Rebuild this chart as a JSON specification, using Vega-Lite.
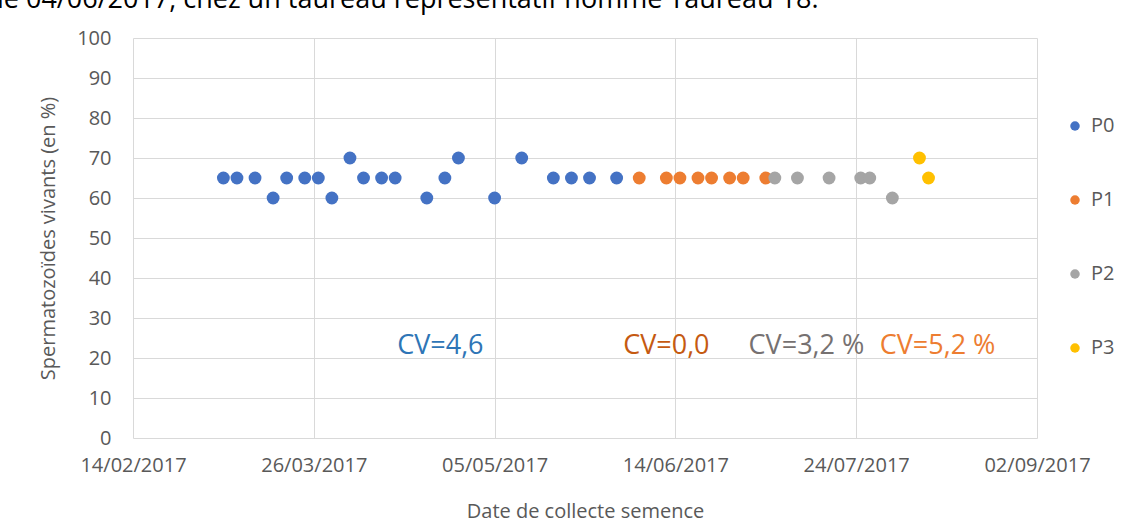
{
  "$schema": "https://vega.github.io/schema/vega-lite/v6.json",
  "width": 904,
  "height": 400,
  "autosize": "none",
  "padding": {"left": 133, "top": 38, "right": 85, "bottom": 94},
  "background": "white",
  "config": {
    "font": "Open Sans",
    "view": {"stroke": null},
    "axis": {"labelColor": "#595959", "titleColor": "#595959", "gridColor": "#d9d9d9", "domain": false, "ticks": false, "labelFontSize": 20, "titleFontSize": 20, "titleFontWeight": "normal"}
  },
  "title": {"text": "le 04/06/2017, chez un taureau représentatif nommé Taureau 18.", "anchor": "start", "frame": "group", "dx": -136, "fontSize": 27, "fontWeight": "normal", "color": "#000000", "baseline": "alphabetic", "offset": -7},
  "datasets": {
    "points": [
      {"date": "2017-03-06", "vivants": 65, "phase": "P0"},
      {"date": "2017-03-09", "vivants": 65, "phase": "P0"},
      {"date": "2017-03-13", "vivants": 65, "phase": "P0"},
      {"date": "2017-03-17", "vivants": 60, "phase": "P0"},
      {"date": "2017-03-20", "vivants": 65, "phase": "P0"},
      {"date": "2017-03-24", "vivants": 65, "phase": "P0"},
      {"date": "2017-03-27", "vivants": 65, "phase": "P0"},
      {"date": "2017-03-30", "vivants": 60, "phase": "P0"},
      {"date": "2017-04-03", "vivants": 70, "phase": "P0"},
      {"date": "2017-04-06", "vivants": 65, "phase": "P0"},
      {"date": "2017-04-10", "vivants": 65, "phase": "P0"},
      {"date": "2017-04-13", "vivants": 65, "phase": "P0"},
      {"date": "2017-04-20", "vivants": 60, "phase": "P0"},
      {"date": "2017-04-24", "vivants": 65, "phase": "P0"},
      {"date": "2017-04-27", "vivants": 70, "phase": "P0"},
      {"date": "2017-05-05", "vivants": 60, "phase": "P0"},
      {"date": "2017-05-11", "vivants": 70, "phase": "P0"},
      {"date": "2017-05-18", "vivants": 65, "phase": "P0"},
      {"date": "2017-05-22", "vivants": 65, "phase": "P0"},
      {"date": "2017-05-26", "vivants": 65, "phase": "P0"},
      {"date": "2017-06-01", "vivants": 65, "phase": "P0"},
      {"date": "2017-06-06", "vivants": 65, "phase": "P1"},
      {"date": "2017-06-12", "vivants": 65, "phase": "P1"},
      {"date": "2017-06-15", "vivants": 65, "phase": "P1"},
      {"date": "2017-06-19", "vivants": 65, "phase": "P1"},
      {"date": "2017-06-22", "vivants": 65, "phase": "P1"},
      {"date": "2017-06-26", "vivants": 65, "phase": "P1"},
      {"date": "2017-06-29", "vivants": 65, "phase": "P1"},
      {"date": "2017-07-04", "vivants": 65, "phase": "P1"},
      {"date": "2017-07-06", "vivants": 65, "phase": "P2"},
      {"date": "2017-07-11", "vivants": 65, "phase": "P2"},
      {"date": "2017-07-18", "vivants": 65, "phase": "P2"},
      {"date": "2017-07-25", "vivants": 65, "phase": "P2"},
      {"date": "2017-07-27", "vivants": 65, "phase": "P2"},
      {"date": "2017-08-01", "vivants": 60, "phase": "P2"},
      {"date": "2017-08-07", "vivants": 70, "phase": "P3"},
      {"date": "2017-08-09", "vivants": 65, "phase": "P3"}
    ],
    "cv": [
      {"date": "2017-04-23", "vivants": 23, "label": "CV=4,6", "groupe": "a"},
      {"date": "2017-06-12", "vivants": 23, "label": "CV=0,0", "groupe": "b"},
      {"date": "2017-07-13", "vivants": 23, "label": "CV=3,2 %", "groupe": "c"},
      {"date": "2017-08-11", "vivants": 23, "label": "CV=5,2 %", "groupe": "d"}
    ]
  },
  "encoding": {
    "x": {"field": "date", "type": "temporal",
      "scale": {"type": "utc", "domain": [1487030400000, 1504310400000]},
      "axis": {"title": "Date de collecte semence",
        "labelExpr": "utcFormat(datum.value, '%d/%m/%Y')",
        "values": [1487030400000, 1490486400000, 1493942400000, 1497398400000, 1500854400000, 1504310400000],
        "labelPadding": 17, "titlePadding": 26, "labelOverlap": false, "labelFlush": false, "labelBound": false}},
    "y": {"field": "vivants", "type": "quantitative",
      "scale": {"domain": [0, 100]},
      "axis": {"title": "Spermatozoïdes vivants (en %)", "values": [0,10,20,30,40,50,60,70,80,90,100], "labelOverlap": false, "labelPadding": 22, "titlePadding": 18}}
  },
  "layer": [
    {
      "data": {"name": "points"},
      "mark": {"type": "point", "filled": true, "opacity": 1, "size": 165},
      "encoding": {
        "color": {"field": "phase", "type": "nominal",
          "scale": {"domain": ["P0", "P1", "P2", "P3"], "range": ["#4472C4", "#ED7D31", "#A5A5A5", "#FFC000"]},
          "legend": {"title": null, "orient": "none", "legendX": 932, "legendY": 78, "rowPadding": 54, "symbolType": "circle", "symbolSize": 90, "labelFontSize": 20, "labelColor": "#595959", "labelOffset": 6}}
      }
    },
    {
      "data": {"name": "cv"},
      "mark": {"type": "text", "fontSize": 27, "baseline": "middle", "align": "center"},
      "encoding": {
        "text": {"field": "label"},
        "color": {"field": "groupe", "type": "nominal",
          "scale": {"domain": ["a", "b", "c", "d"], "range": ["#2E75B6", "#C55A11", "#767171", "#ED7D31"]},
          "legend": null}
      }
    }
  ],
  "resolve": {"scale": {"color": "independent"}}
}
